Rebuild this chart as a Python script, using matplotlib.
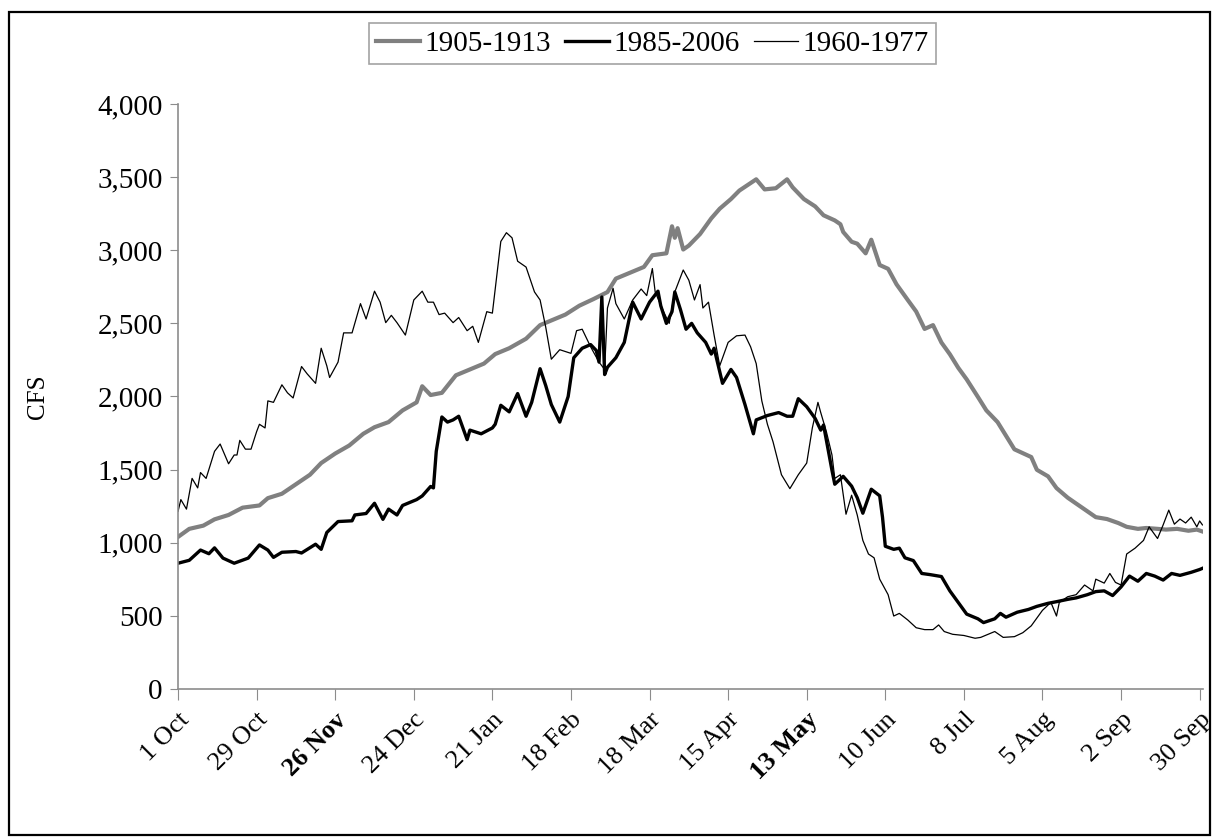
import matplotlib
matplotlib.use("Agg")
import matplotlib.pyplot as plt
from matplotlib.patches import Rectangle
from matplotlib.ticker import StrMethodFormatter

# day of water year (0 = 1 Oct) and flow in CFS
days_1905 = [0, 4, 9, 13, 18, 23, 29, 32, 37, 42, 47, 51, 56, 61, 66, 70, 75, 80, 85, 87,
             90, 94, 99, 104, 109, 113, 118, 124, 129, 134, 138, 143, 148, 153, 156, 161,
             166, 169, 174, 176, 177, 178, 180, 182, 186, 190, 193, 197, 200, 206, 209,
             213, 217, 219, 223, 227, 230, 234, 236, 237, 240, 242, 245, 247, 250, 253,
             256, 260, 263, 266, 269, 272, 275, 278, 281, 285, 288, 292, 295, 298, 304,
             306, 310, 313, 317, 320, 324, 327, 331, 335, 338, 342, 345, 349, 352, 356,
             360, 363, 365]
cfs_1905 = [1040, 1095, 1117, 1160, 1190, 1240, 1255, 1305, 1335, 1400, 1465, 1545, 1610,
            1665, 1745, 1790, 1825, 1905, 1960, 2070, 2010, 2025, 2145, 2185, 2225, 2290,
            2330, 2395, 2488, 2528, 2560, 2621, 2666, 2714, 2806, 2846, 2886, 2966, 2979,
            3164, 3085, 3151, 3005, 3032, 3111, 3218, 3284, 3350, 3408, 3485, 3416, 3424,
            3485, 3430, 3350, 3300, 3239, 3204, 3178, 3125, 3058, 3045, 2979, 3072, 2899,
            2873, 2767, 2660, 2581, 2462, 2488, 2369, 2289, 2196, 2117, 1997, 1905, 1825,
            1732, 1639, 1586, 1499, 1454, 1374, 1308, 1268, 1215, 1175, 1162, 1135, 1109,
            1095, 1101, 1095, 1090, 1095, 1082, 1090, 1077]

days_1985 = [0, 4, 8, 11, 13, 16, 20, 25, 29, 32, 34, 37, 42, 44, 49, 51, 53, 57, 62, 63,
             67, 70, 73, 75, 78, 80, 85, 87, 90, 91, 92, 94, 96, 98, 100, 103, 104, 108,
             112, 113, 115, 118, 121, 124, 126, 129, 131, 133, 136, 139, 141, 144, 147,
             149, 150, 151, 152, 153, 156, 159, 161, 162, 165, 168, 171, 172, 174, 176,
             177, 179, 181, 183, 185, 188, 190, 191, 194, 197, 199, 202, 205, 206, 210,
             214, 217, 219, 221, 224, 227, 229, 230, 233, 234, 237, 240, 242, 244, 247,
             250, 251, 252, 255, 257, 259, 262, 265, 268, 272, 275, 278, 281, 285, 287,
             291, 293, 295, 299, 303, 306, 310, 313, 317, 320, 324, 327, 330, 333, 336,
             339, 342, 345, 348, 351, 354, 357, 361, 364, 365]
cfs_1985 = [860, 880, 950, 925, 965, 895, 860, 895, 985, 950, 900, 935, 940, 930, 990, 955,
            1070, 1145, 1150, 1190, 1200, 1270, 1160, 1230, 1190, 1255, 1295, 1320, 1385,
            1375, 1625, 1860, 1825, 1840, 1865, 1705, 1770, 1745, 1785, 1810, 1940, 1895,
            2020, 1865, 1960, 2190, 2075, 1945, 1825, 2000, 2265, 2330, 2355, 2315, 2235,
            2680, 2150, 2200, 2265, 2370, 2555, 2645, 2530, 2645, 2720, 2620, 2500, 2580,
            2715, 2595, 2460, 2500, 2435, 2370, 2290, 2330, 2090, 2185, 2130, 1945, 1745,
            1840, 1870, 1890, 1865, 1865, 1985, 1930, 1850, 1770, 1805, 1495, 1400, 1454,
            1387, 1308, 1202, 1366, 1321, 1175, 976, 955, 963, 897, 878, 790, 782, 769,
            671, 592, 512, 480, 454, 480, 517, 491, 525, 544, 565, 586, 597, 613, 623, 645,
            666, 671, 639, 698, 772, 737, 790, 772, 745, 790, 777, 798, 817, 825]

days_1960 = [0, 1, 3, 5, 7, 8, 10, 13, 15, 18, 20, 21, 22, 24, 26, 28, 29, 31, 32, 34, 37,
             39, 41, 44, 46, 49, 51, 53, 54, 57, 59, 62, 65, 67, 70, 72, 74, 76, 78, 81,
             84, 87, 89, 91, 93, 95, 98, 100, 103, 105, 107, 110, 112, 115, 117, 119, 121,
             124, 127, 129, 131, 133, 136, 140, 142, 144, 147, 150, 152, 153, 155, 156,
             159, 162, 165, 167, 169, 170, 173, 175, 177, 180, 182, 184, 186, 187, 189,
             191, 193, 196, 199, 202, 204, 206, 208, 210, 212, 215, 218, 221, 224, 226,
             228, 229, 231, 233, 234, 236, 238, 240, 242, 244, 246, 248, 250, 253, 255,
             257, 260, 263, 266, 269, 271, 273, 276, 280, 284, 286, 291, 294, 298, 301,
             304, 306, 308, 311, 313, 314, 317, 320, 323, 326, 327, 330, 332, 334, 336,
             338, 341, 344, 346, 349, 351, 353, 355, 357, 359, 361, 363, 364, 365]
cfs_1960 = [1215, 1295, 1230, 1440, 1375, 1480, 1440, 1625, 1675, 1540, 1600, 1600, 1700,
            1640, 1640, 1760, 1810, 1785, 1970, 1960, 2080, 2025, 1990, 2205, 2155, 2090,
            2330, 2210, 2130, 2235, 2435, 2435, 2635, 2530, 2720, 2645, 2505, 2555, 2505,
            2420, 2660, 2720, 2645, 2645, 2560, 2570, 2505, 2540, 2450, 2480, 2370, 2580,
            2570, 3060, 3120, 3085, 2925, 2885, 2715, 2660, 2475, 2255, 2320, 2295, 2450,
            2460, 2340, 2235, 2185, 2605, 2740, 2635, 2530, 2660, 2735, 2690, 2875, 2715,
            2580, 2500, 2715, 2865, 2795, 2660, 2765, 2605, 2645, 2420, 2210, 2370, 2415,
            2420, 2340, 2225, 1970, 1810, 1690, 1465, 1370, 1465, 1545, 1785, 1960, 1890,
            1760, 1600, 1440, 1465, 1195, 1325, 1190, 1016, 923, 897, 751, 645, 499, 517,
            472, 419, 406, 406, 438, 393, 374, 366, 347, 353, 393, 353, 358, 385, 432, 485,
            538, 592, 499, 592, 631, 645, 711, 671, 751, 724, 790, 729, 711, 923, 963,
            1016, 1109, 1029, 1122, 1223, 1127, 1162, 1135, 1175, 1109, 1149, 1122]

tick_days = [0, 28, 56, 84, 112, 140, 168, 196, 224, 252, 280, 308, 336, 364]
tick_labels = ["1 Oct", "29 Oct", "26 Nov", "24 Dec", "21 Jan", "18 Feb", "18 Mar",
               "15 Apr", "13 May", "10 Jun", "8 Jul", "5 Aug", "2 Sep", "30 Sep"]
bold_labels = ["26 Nov", "13 May"]
y_ticks = [0, 500, 1000, 1500, 2000, 2500, 3000, 3500, 4000]

plt.rcParams['font.family'] = ['Liberation Serif', 'DejaVu Serif']

fig = plt.figure(figsize=(12.17, 8.38), dpi=100)
ax = fig.add_axes([0.1463, 0.1778, 0.8422, 0.6981])

ax.plot(days_1905, cfs_1905, color='#808080', lw=3.0, label='1905-1913')
ax.plot(days_1985, cfs_1985, color='black', lw=2.4, label='1985-2006')
ax.plot(days_1960, cfs_1960, color='black', lw=0.9, label='1960-1977')

ax.set_xlim(0, 365.2)
ax.set_ylim(0, 4000)
ax.set_yticks(y_ticks)
ax.yaxis.set_major_formatter(StrMethodFormatter('{x:,.0f}'))
ax.set_xticks(tick_days)
ax.set_xticklabels(tick_labels, rotation=45, ha='right', va='top',
                   rotation_mode='anchor')
for lab in ax.get_xticklabels():
    if lab.get_text() in bold_labels:
        lab.set_fontweight('bold')

for s in ['top', 'right']:
    ax.spines[s].set_visible(False)
for s in ['left', 'bottom']:
    ax.spines[s].set_color('#8c8c8c')
    ax.spines[s].set_linewidth(1.2)
ax.tick_params(axis='y', direction='out', length=6, color='#8c8c8c', labelsize=21, pad=5)
ax.tick_params(axis='x', direction='out', length=8, color='#8c8c8c', labelsize=19, pad=6)

ax.set_ylabel('CFS', fontsize=18)
ax.yaxis.set_label_coords(-0.126, 0.5)

leg = fig.legend(loc='upper center', bbox_to_anchor=(0.536, 0.972), ncol=3,
                 fontsize=21, frameon=True, fancybox=False, handlelength=1.5,
                 handletextpad=0.15, columnspacing=0.5, borderpad=0.25,
                 borderaxespad=0)
leg.get_frame().set_edgecolor('#8c8c8c')
leg.get_frame().set_linewidth(1.2)

fig.patches.append(Rectangle((0.0074, 0.004), 0.9866, 0.982, transform=fig.transFigure,
                             fill=False, edgecolor='black', lw=1.6))

fig.savefig('out.png', dpi=100)
